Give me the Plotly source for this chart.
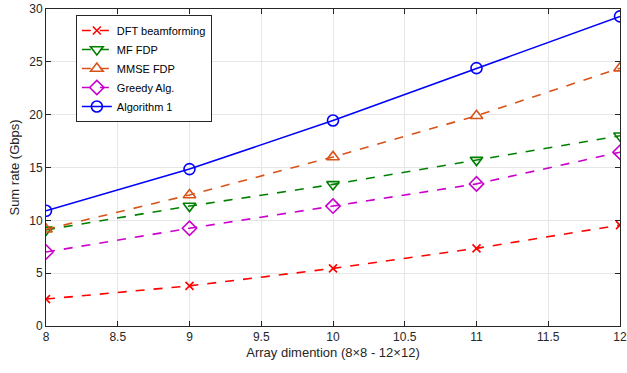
import plotly.graph_objects as go

x = [8, 9, 10, 11, 12]
dft = [2.55, 3.8, 5.45, 7.35, 9.55]
mf = [9.1, 11.35, 13.4, 15.7, 18.0]
mmse = [9.15, 12.4, 16.0, 19.9, 24.4]
greedy = [7.0, 9.25, 11.35, 13.45, 16.45]
alg1 = [10.9, 14.85, 19.45, 24.4, 29.3]

series = [
    ("DFT beamforming", dft, "#ff0000", "x-thin-open", "dash", 8),
    ("MF FDP", mf, "#008000", "triangle-down-open", "dash", 11),
    ("MMSE FDP", mmse, "#D95319", "triangle-up-open", "dash", 11),
    ("Greedy Alg.", greedy, "#cc00cc", "diamond-open", "dash", 11),
    ("Algorithm 1", alg1, "#0000ff", "circle-open", "solid", 11),
]

fig = go.Figure()
for name, y, c, sym, dash, ms in series:
    fig.add_trace(go.Scatter(
        x=x, y=y, name=name, mode="lines+markers",
        line=dict(color=c, width=1.6, dash=dash),
        marker=dict(symbol=sym, size=ms, color=c, line=dict(color=c, width=1.6)),
    ))

axis_common = dict(
    showline=True, linecolor="#262626", linewidth=1, mirror="ticks",
    ticks="inside", ticklen=5, tickcolor="#262626",
    showgrid=True, gridcolor="#e6e6e6", gridwidth=1, zeroline=False,
    automargin=False,
    tickfont=dict(family="Liberation Sans, Arial", size=12, color="#262626"),
)
fig.update_xaxes(range=[8, 12], dtick=0.5, title=dict(text="Array dimention (8×8 - 12×12)", standoff=4,
                 font=dict(family="Liberation Sans, Arial", size=13, color="#262626")), **axis_common)
fig.update_yaxes(range=[0, 30], dtick=5, title=dict(text="Sum rate (Gbps)", standoff=6,
                 font=dict(family="Liberation Sans, Arial", size=13, color="#262626")), **axis_common)

fig.update_layout(
    width=627, height=373,
    margin=dict(l=46, r=7, t=9, b=47),
    paper_bgcolor="white", plot_bgcolor="white",
    showlegend=True,
    legend=dict(x=0.052, y=0.981, xanchor="left", yanchor="top",
                bgcolor="white", bordercolor="#262626", borderwidth=1,
                font=dict(family="Liberation Sans, Arial", size=11, color="black"),
                itemwidth=30, tracegroupgap=0),
)

fig.write_html("out.html")
